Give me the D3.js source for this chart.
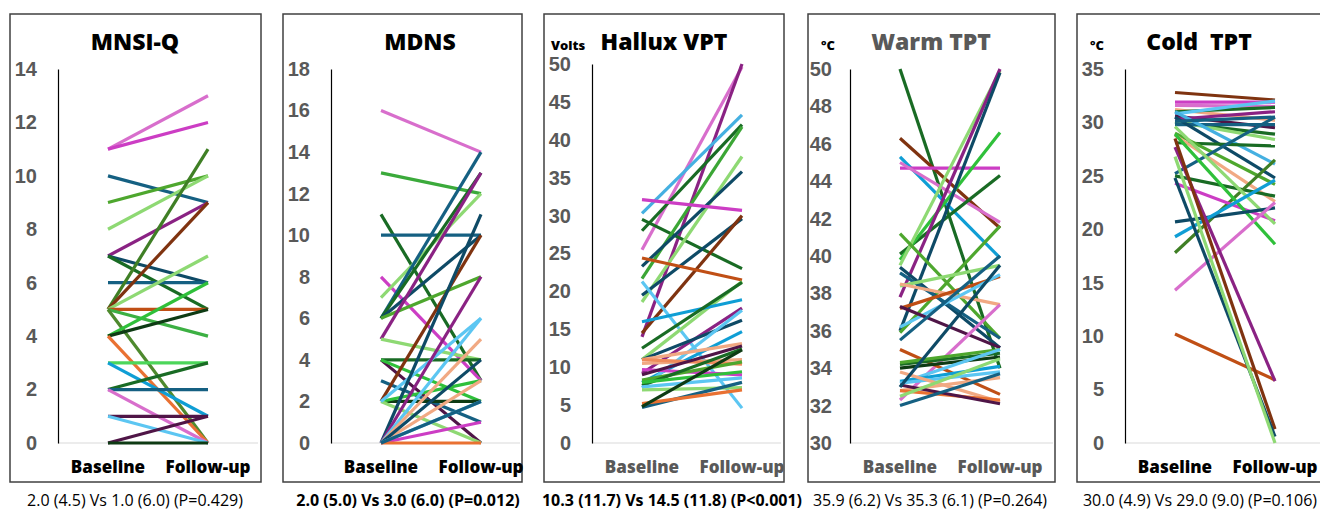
<!DOCTYPE html>
<html>
<head>
<meta charset="utf-8">
<script src="https://cdn.jsdelivr.net/npm/d3@7"></script>
<style>
  body { margin: 0; background: #fff; }
  svg { display: block; font-family: "Open Sans", "Liberation Sans", Arial, sans-serif; }
  .tick-label { fill: #595959; font-weight: 800; font-size: 20px; }
  .title { font-weight: 800; font-size: 23px; }
  .xlab { font-weight: 800; font-size: 17px; }
  .unit { font-weight: 800; font-size: 13px; fill: #000; }
  .stat { font-size: 16px; fill: #000; }
</style>
</head>
<body>
<div id="chart"></div>
<script>
// time points
var timepoints = ["Baseline", "Follow-up"];

// colour names (office-like palette)
var C = {
  dkTeal: "#156082", navy: "#0E4A66", orange: "#E97132", dkOrange: "#C04F15",
  brown: "#7F3310", peach: "#F1A983", dkGreen: "#196B24", vdkGreen: "#0E3B14",
  green: "#4EA72E", olive: "#3F7F25", brGreen: "#2FC03A", ltGreen: "#8ED973",
  blue: "#0F9ED5", skyBlue: "#5CC6F2", purple: "#8A2283", dkPurple: "#4F1547",
  magenta: "#CC3DC4", ltMagenta: "#D86ECC"
};

// ---- MNSI-Q ----
var mnsiBase   = [11, 11, 10, 9, 8, 7, 7, 7, 6, 5, 5, 5, 5, 5, 5, 4, 4, 4, 3, 3, 2, 2, 2, 1, 1, 0, 0];
var mnsiFollow = [13, 12, 9, 10, 10, 9, 6, 5, 6, 11, 9, 7, 5, 4, 0, 6, 5, 0, 3, 1, 3, 2, 0, 1, 0, 1, 0];
var mnsiColors = [C.ltMagenta, C.magenta, C.dkTeal, C.green, C.ltGreen, C.purple, C.navy, C.dkGreen, C.dkTeal,
  C.olive, C.brown, C.ltGreen, C.dkOrange, "#3CB043", "#4E8A2E", C.brGreen, C.vdkGreen, C.orange, "#4CD65A",
  C.blue, C.dkGreen, C.dkTeal, C.ltMagenta, C.dkPurple, C.skyBlue, C.dkPurple, C.vdkGreen];
var mnsiTicks = [0, 2, 4, 6, 8, 10, 12, 14];

// ---- MDNS ----
var mdnsBase   = [16, 13, 11, 10, 8, 7, 6, 6, 6, 6, 5, 5, 4, 4, 4, 3, 2, 2, 2, 2, 2, 0, 0, 0, 0, 0, 0, 0, 0, 0, 0];
var mdnsFollow = [14, 12, 3, 10, 3, 12, 14, 13, 10, 8, 13, 4, 4, 0, 2, 1, 10, 2, 3, 0, 6, 11, 8, 6, 5, 3, 4, 2, 1, 0, 2];
var mdnsColors = [C.ltMagenta, "#3BAA3B", C.dkGreen, C.dkTeal, C.magenta, C.ltGreen, C.dkTeal, C.dkGreen, C.navy,
  C.green, C.purple, C.ltGreen, C.dkGreen, C.dkPurple, C.brGreen, C.dkTeal, C.brown, C.vdkGreen, C.brGreen,
  C.ltGreen, C.skyBlue, C.navy, C.purple, C.skyBlue, C.peach, C.peach, C.navy, C.skyBlue, C.magenta, C.orange, C.dkTeal];
var mdnsTicks = [0, 2, 4, 6, 8, 10, 12, 14, 16, 18];

// ---- Hallux VPT ----
var vptBase   = [25.5, 14, 30.3, 28, 29.5, 21.7, 18.6, 23.3, 32.1, 19.5, 14.5, 24.4, 21.3, 11, 16, 12.5, 9.2,
  11, 8, 7.3, 11, 10.5, 11, 9.7, 8.3, 9, 7.6, 8, 7.4, 7, 4.7, 5.2, 4.8];
var vptFollow = [49.6, 50, 43.3, 42, 23, 41.7, 37.8, 35.8, 30.7, 29.6, 30, 21.5, 4.6, 21.3, 18.9, 21.2, 17.8,
  16.2, 14.7, 17.5, 13.1, 11, 10.4, 9, 10.7, 12.8, 12.4, 9.4, 8.6, 7.3, 8, 7, 12.3];
var vptColors = [C.ltMagenta, C.purple, "#45B0E1", C.dkGreen, C.dkGreen, "#3BA635", C.ltGreen, C.navy, C.magenta,
  C.navy, C.brown, C.dkOrange, C.skyBlue, C.ltGreen, C.blue, C.dkGreen, C.purple, C.navy, C.blue, C.skyBlue,
  C.peach, C.peach, "#EE8A5A", C.magenta, C.green, C.dkPurple, C.dkGreen, C.brGreen, C.skyBlue, C.ltGreen,
  C.dkTeal, C.orange, C.vdkGreen];
var vptTicks = [0, 5, 10, 15, 20, 25, 30, 35, 40, 45, 50];

// ---- Warm TPT ----
var warmBase   = [50, 46.3, 45.3, 44.7, 45, 40.1, 39.8, 39.5, 37.8, 36, 41.2, 35.9, 39.4, 39.1, 38.4, 38.5, 37.2,
  36.2, 37.3, 35.5, 32.3, 35, 34.2, 34.3, 34, 33.2, 33.3, 33.2, 33.8, 32.8, 32.8, 33.1, 32, 32.5, 33];
var warmFollow = [34, 41.5, 39.9, 44.7, 41.8, 44.3, 46.6, 49.9, 50, 49.8, 35.6, 41.6, 35.1, 35.6, 39.5, 37.4, 38.9,
  39, 35.1, 40, 37.4, 32.6, 34.8, 35, 34.6, 35, 34.1, 33.8, 32.2, 33.5, 32.3, 32.1, 33.7, 34.5, 39.5];
var warmColors = [C.dkGreen, C.brown, C.blue, C.magenta, C.ltMagenta, C.dkGreen, C.brGreen, C.ltGreen, C.purple,
  C.navy, C.green, C.green, C.navy, C.dkTeal, C.ltGreen, C.peach, C.dkOrange, C.skyBlue, C.dkPurple, C.dkTeal,
  C.ltMagenta, C.dkOrange, C.dkGreen, C.green, C.vdkGreen, C.skyBlue, C.blue, C.skyBlue, C.peach, C.peach,
  C.orange, C.dkPurple, C.dkTeal, C.ltGreen, C.navy];
var warmTicks = [30, 32, 34, 36, 38, 40, 42, 44, 46, 48, 50];

// ---- Cold TPT ----
var coldBase   = [32.8, 31.9, 31.6, 31.2, 31.0, 30.8, 30.6, 30.3, 30.0, 30.1, 29.8, 31.0, 30.5, 28.1, 29.0, 28.8,
  25.2, 25.0, 17.8, 24.3, 29.6, 28.9, 20.7, 19.3, 14.3, 10.2, 27.7, 28.5, 24.8, 26.8, 30.1];
var coldFollow = [32.1, 31.9, 31.5, 30.2, 31.4, 32.0, 29.5, 31.0, 28.9, 28.4, 29.8, 26.1, 24.8, 27.8, 24.2, 22.6,
  30.5, 23.1, 26.5, 20.8, 20.5, 18.6, 22.0, 24.6, 22.5, 5.9, 5.8, 1.3, 0.6, 0.0, 30.5];
var coldColors = [C.brown, C.magenta, C.ltMagenta, C.peach, C.dkGreen, C.skyBlue, C.dkPurple, C.purple, C.dkGreen,
  C.ltGreen, C.dkTeal, "#45B0E1", C.navy, C.dkGreen, C.green, C.peach, C.dkTeal, C.dkGreen, C.olive, C.magenta,
  C.ltGreen, C.brGreen, C.navy, C.blue, C.ltMagenta, C.dkOrange, C.purple, C.brown, C.navy, C.ltGreen, C.dkTeal];
var coldTicks = [0, 5, 10, 15, 20, 25, 30, 35];

var panelTitles = ["MNSI-Q", "MDNS", "Hallux VPT", "Warm TPT", "Cold\u00a0\u00a0TPT"];
var panelUnits = ["", "", "Volts", "\u00b0C", "\u00b0C"];
var panelStats = [
  "2.0 (4.5) Vs 1.0 (6.0) (P=0.429)",
  "2.0 (5.0) Vs 3.0 (6.0) (P=0.012)",
  "10.3 (11.7) Vs 14.5 (11.8) (P<0.001)",
  "35.9 (6.2) Vs 35.3 (6.1) (P=0.264)",
  "30.0 (4.9) Vs 29.0 (9.0) (P=0.106)"
];

// layout for each panel
var layout = [
  { axisX: 58,   boxL: 10,   boxR: 261,  top: 69, xEnd: 258,  titleX: 135,  titleColor: "#000",    labColor: "#000",    statBold: false, statX: 135 },
  { axisX: 331,  boxL: 283,  boxR: 522,  top: 69, xEnd: 520,  titleX: 420,  titleColor: "#000",    labColor: "#000",    statBold: true,  statX: 408 },
  { axisX: 592,  boxL: 544,  boxR: 784,  top: 64, xEnd: 781,  titleX: 664,  titleColor: "#000",    labColor: "#595959", statBold: true,  statX: 672 },
  { axisX: 850,  boxL: 808,  boxR: 1055, top: 69, xEnd: 1053, titleX: 931,  titleColor: "#595959", labColor: "#595959", statBold: false, statX: 930 },
  { axisX: 1125, boxL: 1077, boxR: 1340, top: 69, xEnd: 1330, titleX: 1199, titleColor: "#000",    labColor: "#000",    statBold: false, statX: 1200 }
];

var bases = [mnsiBase, mdnsBase, vptBase, warmBase, coldBase];
var follows = [mnsiFollow, mdnsFollow, vptFollow, warmFollow, coldFollow];
var colors = [mnsiColors, mdnsColors, vptColors, warmColors, coldColors];
var ticks = [mnsiTicks, mdnsTicks, vptTicks, warmTicks, coldTicks];

var svgWidth = 1320, svgHeight = 512;
var bottomY = 443, boxTop = 14, boxBottom = 482;

var svg = d3.select("#chart").append("svg")
  .attr("width", svgWidth)
  .attr("height", svgHeight);

layout.forEach(function(L, i) {
  var g = svg.append("g");
  var tk = ticks[i];

  // box
  g.append("rect")
    .attr("x", L.boxL).attr("y", boxTop)
    .attr("width", L.boxR - L.boxL).attr("height", boxBottom - boxTop)
    .attr("fill", "none").attr("stroke", "#404040").attr("stroke-width", 1.5);

  var yScale = d3.scaleLinear()
    .domain([tk[0], tk[tk.length - 1]])
    .range([bottomY, L.top]);

  var xScale = d3.scalePoint()
    .domain(timepoints)
    .range([L.axisX, L.axisX + 200])
    .padding(0.5);

  // x axis baseline (light grey)
  g.append("line")
    .attr("x1", L.axisX).attr("x2", L.xEnd)
    .attr("y1", bottomY).attr("y2", bottomY)
    .attr("stroke", "#d9d9d9").attr("stroke-width", 1.2);

  // y axis
  var yAxis = d3.axisLeft(yScale).tickValues(tk).tickSize(0).tickPadding(i === 3 ? 18 : 21);
  var yg = g.append("g")
    .attr("transform", `translate(${L.axisX},0)`)
    .call(yAxis);
  yg.select(".domain").attr("stroke", "#000").attr("stroke-width", 1.2);
  yg.selectAll("text").attr("class", "tick-label").attr("font-family", null).attr("font-size", null).attr("fill", null);

  // series lines
  var line = d3.line()
    .x(function(d) { return xScale(d.t); })
    .y(function(d) { return yScale(d.v); });

  var series = bases[i].map(function(b, j) {
    return [{ t: timepoints[0], v: b }, { t: timepoints[1], v: follows[i][j] }];
  });

  g.selectAll("path.series")
    .data(series)
    .enter()
    .append("path")
    .attr("class", "series")
    .attr("d", line)
    .attr("fill", "none")
    .attr("stroke", function(d, j) { return colors[i][j]; })
    .attr("stroke-width", 3.2);

  // x labels
  g.selectAll("text.xlab")
    .data(timepoints)
    .enter()
    .append("text")
    .attr("class", "xlab")
    .attr("x", function(d) { return xScale(d); })
    .attr("y", 473)
    .attr("text-anchor", "middle")
    .attr("fill", L.labColor)
    .text(function(d) { return d; });

  // title
  g.append("text")
    .attr("class", "title")
    .attr("x", L.titleX).attr("y", 50)
    .attr("text-anchor", "middle")
    .attr("fill", L.titleColor)
    .text(panelTitles[i]);

  // unit label
  if (panelUnits[i]) {
    g.append("text")
      .attr("class", "unit")
      .attr("x", L.boxL + (i === 2 ? 24 : 20)).attr("y", 50)
      .attr("text-anchor", "middle")
      .text(panelUnits[i]);
  }

  // stats under the panel
  g.append("text")
    .attr("class", "stat")
    .attr("x", L.statX).attr("y", 506)
    .attr("text-anchor", "middle")
    .attr("font-weight", L.statBold ? 700 : 400)
    .text(panelStats[i]);
});
</script>
</body>
</html>
